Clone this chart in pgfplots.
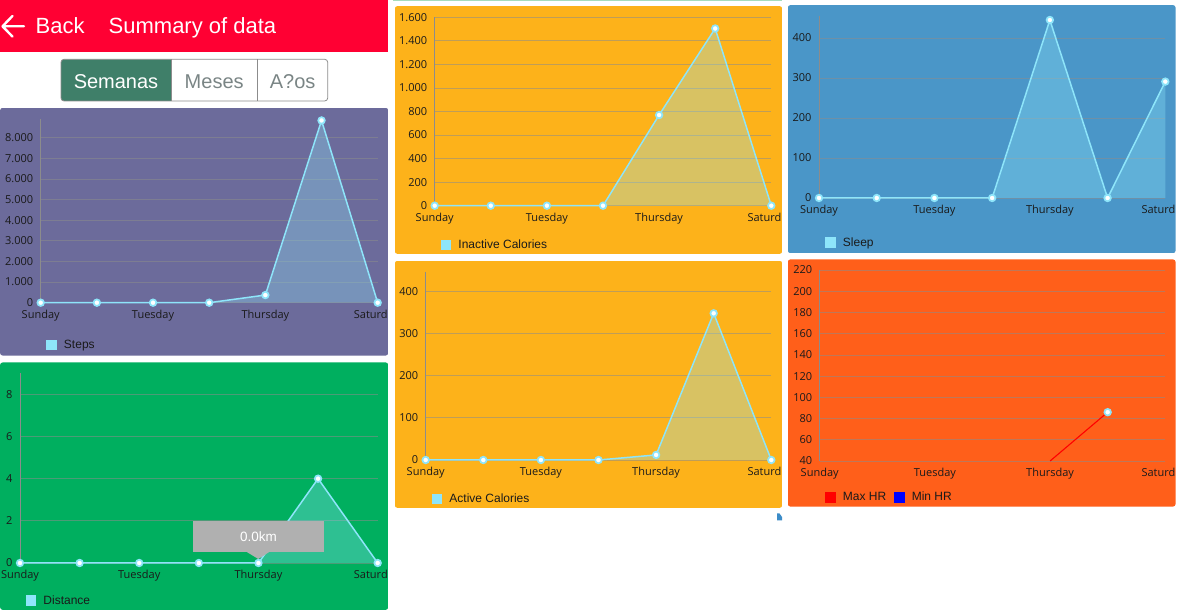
\documentclass[border=0pt]{standalone}
\usepackage{fontspec}
\usepackage{pgfplots}
\pgfplotsset{compat=1.18}
\setmainfont{Liberation Sans}
\newfontfamily\chartfont{Open Sans}
\definecolor{hdrred}{HTML}{FF0033}
\definecolor{segteal}{HTML}{3F7F69}
\definecolor{seggray}{HTML}{7A8585}
\definecolor{stepsbg}{HTML}{6C6B9B}
\definecolor{distbg}{HTML}{00AF5F}
\definecolor{calbg}{HTML}{FDB21A}
\definecolor{sleepbg}{HTML}{4A96C8}
\definecolor{hrbg}{HTML}{FF5F1A}
\definecolor{lcyan}{HTML}{8EE5FA}
\definecolor{tipgray}{HTML}{B0B0B0}
\definecolor{ticktxt}{HTML}{1A1A1A}
\definecolor{topgreen}{HTML}{A6DCBC}
\definecolor{tinyblue}{HTML}{3C8CC8}

\pgfplotsset{
  panel/.style={
    scale only axis, anchor=south west, clip=false,
    xmin=0, xmax=6, ymin=0,
    axis lines*=left,
    x axis line style={draw=none},
    y axis line style={draw=black!45, line width=0.7pt},
    xtick={0,2,4}, xticklabels={Sunday,Tuesday,Thursday},
    extra x ticks={6}, extra x tick labels={Saturd},
    extra x tick style={xticklabel style={anchor=north west, xshift=-27.3pt}},
    ymajorgrids, grid style={draw=black!45, line width=0.7pt, opacity=0.55},
    major tick length=0pt,
    tick label style={font=\chartfont\fontsize{11}{12}\selectfont, text=ticktxt},
    xticklabel style={yshift=-4pt},
    yticklabel style={xshift=-4pt},
    scaled y ticks=false,
    /pgf/number format/1000 sep={.},
    /pgf/number format/assume math mode=true,
    legend style={draw=none, fill=none, inner sep=0pt, anchor=west,
      font=\fontsize{12}{13}\selectfont, text=ticktxt,
      /tikz/every odd column/.style={column sep=5pt},
      /tikz/every even column/.style={column sep=6pt}},
    legend cell align=left,
  },
  legsq/.style={legend image code/.code={\fill[##1, draw=none] (0pt,-5.3pt) rectangle (10.5pt,5.3pt);}},
  dline/.style={lcyan, line width=1.5pt, mark=*, mark size=3.3pt,
    mark options={fill=white, draw=lcyan, line width=1.7pt}, forget plot},
  darea/.style={fill=lcyan, fill opacity=0.33, draw=none, forget plot},
}

\begin{document}
\begin{tikzpicture}[x=1pt, y=1pt]
\useasboundingbox (0,0) rectangle (1178,613);
\fill[white] (0,0) rectangle (1178,613);

% ---------- header ----------
\fill[hdrred] (0,561) rectangle (388,613);
\draw[white, line width=2.4pt, line cap=round, line join=round]
  (24,586.7) -- (2.5,586.7) (12.5,597) -- (2.5,586.7) -- (12.5,576.4);
\node[anchor=base west, text=white, inner sep=0pt, font=\fontsize{22}{24}\selectfont] at (35.5,579.3) {Back};
\node[anchor=base west, text=white, inner sep=0pt, font=\fontsize{22}{24}\selectfont] at (108.5,579.3) {Summary of data};

% ---------- segmented control ----------
\fill[white, rounded corners=3pt] (61,512) rectangle (327.7,553.7);
\fill[segteal, rounded corners=3pt] (61,512) rectangle (175,553.7);
\fill[white] (171,511) rectangle (176,554.5);
\draw[black!45, line width=0.8pt, rounded corners=3pt] (61,512) rectangle (327.7,553.7);
\draw[black!45, line width=0.8pt] (171,512) -- (171,553.7) (257.5,512) -- (257.5,553.7);
\node[anchor=base, text=white, inner sep=0pt, font=\fontsize{20}{22}\selectfont] at (116,524.8) {Semanas};
\node[anchor=base, text=seggray, inner sep=0pt, font=\fontsize{20}{22}\selectfont] at (214.2,524.8) {Meses};
\node[anchor=base, text=seggray, inner sep=0pt, font=\fontsize{20}{22}\selectfont] at (292.6,524.8) {A?os};

% ---------- Steps ----------
\begin{scope}
\clip[rounded corners=3pt] (0,257.3) rectangle (388.3,505.3);
\fill[stepsbg] (0,257.3) rectangle (388.3,505.3);
\begin{axis}[panel, at={(40.7pt,310.3pt)}, width=337pt, height=183.7pt,
  ymax=8900, ytick distance=1000, legend style={at={(0.0166,-0.231)}}]
\addplot[darea] coordinates {(0,0)(1,0)(2,0)(3,0)(4,370)(5,8830)(6,0)} \closedcycle;
\addplot[dline] coordinates {(0,0)(1,0)(2,0)(3,0)(4,370)(5,8830)(6,0)};
\addlegendimage{legsq, fill=lcyan}
\addlegendentry{Steps}
\end{axis}
\end{scope}

% ---------- Distance ----------
\begin{scope}
\clip[rounded corners=3pt] (0,3) rectangle (388.3,250.7);
\fill[distbg] (0,3) rectangle (388.3,250.7);
\begin{axis}[panel, at={(20pt,50pt)}, width=357.7pt, height=189.7pt,
  ymax=9, ytick distance=2, legend style={at={(0.016,-0.199)}}]
\addplot[darea] coordinates {(0,0)(1,0)(2,0)(3,0)(4,0)(5,4)(6,0)} \closedcycle;
\addplot[dline] coordinates {(0,0)(1,0)(2,0)(3,0)(4,0)(5,4)(6,0)};
\addlegendimage{legsq, fill=lcyan}
\addlegendentry{Distance}
\end{axis}
\fill[tipgray] (193.3,61.3) rectangle (323.7,92.3);
\fill[tipgray] (246,61.5) -- (270,61.5) -- (258.3,54) -- cycle;
\node[text=white, font=\fontsize{13.5}{15}\selectfont] at (258.5,76.8) {0.0km};
\end{scope}

% ---------- Inactive Calories ----------
\fill[topgreen] (393,611.6) rectangle (782.3,613);
\begin{scope}
\clip[rounded corners=3pt] (394.7,359) rectangle (782.3,607);
\fill[calbg] (394.7,359) rectangle (782.3,607);
\begin{axis}[panel, at={(434.7pt,407.3pt)}, width=336.6pt, height=188.4pt,
  ymax=1600, ytick distance=200, legend style={at={(0.018,-0.208)}}]
\addplot[darea] coordinates {(0,0)(1,0)(2,0)(3,0)(4,770)(5,1505)(6,0)} \closedcycle;
\addplot[dline] coordinates {(0,0)(1,0)(2,0)(3,0)(4,770)(5,1505)(6,0)};
\addlegendimage{legsq, fill=lcyan}
\addlegendentry{Inactive Calories}
\end{axis}
\end{scope}

% ---------- Active Calories ----------
\begin{scope}
\clip[rounded corners=3pt] (394.7,105) rectangle (782.3,352.3);
\fill[calbg] (394.7,105) rectangle (782.3,352.3);
\begin{axis}[panel, at={(425.7pt,153pt)}, width=345.6pt, height=188pt,
  ymax=446, ytick distance=100, legend style={at={(0.0174,-0.208)}}]
\addplot[darea] coordinates {(0,0)(1,0)(2,0)(3,0)(4,12)(5,348)(6,0)} \closedcycle;
\addplot[dline] coordinates {(0,0)(1,0)(2,0)(3,0)(4,12)(5,348)(6,0)};
\addlegendimage{legsq, fill=lcyan}
\addlegendentry{Active Calories}
\end{axis}
\end{scope}
\fill[tinyblue] (777,92.5) -- (777,99.5) -- (779.5,99.5) -- (782,96) -- (782,92.5) -- cycle;

% ---------- Sleep ----------
\begin{scope}
\clip[rounded corners=3pt] (787.7,359.7) rectangle (1175.7,608);
\fill[sleepbg] (787.7,359.7) rectangle (1175.7,608);
\begin{axis}[panel, at={(819pt,415pt)}, width=346.3pt, height=182pt,
  ymax=455, ytick distance=100, legend style={at={(0.018,-0.246)}}]
\addplot[darea] coordinates {(0,0)(1,0)(2,0)(3,0)(4,445)(5,0)(6,291)} \closedcycle;
\addplot[dline] coordinates {(0,0)(1,0)(2,0)(3,0)(4,445)(5,0)(6,291)};
\addlegendimage{legsq, fill=lcyan}
\addlegendentry{Sleep}
\end{axis}
\end{scope}

% ---------- Heart rate ----------
\begin{scope}
\clip[rounded corners=3pt] (787.7,106.3) rectangle (1175.7,353.7);
\fill[hrbg] (787.7,106.3) rectangle (1175.7,353.7);
\begin{axis}[panel, at={(819.7pt,152pt)}, width=345.6pt, height=191pt,
  ymin=40, ymax=220, ytick distance=20, legend columns=2,
  legend style={at={(0.016,-0.19)}}]
\addplot[red, line width=1.1pt, forget plot] coordinates {(4,40)(5,86)};
\addplot[only marks, mark=*, mark size=3.3pt,
  mark options={fill=white, draw=lcyan, line width=1.7pt}, forget plot] coordinates {(5,86)};
\addlegendimage{legsq, fill=red}
\addlegendentry{Max HR}
\addlegendimage{legsq, fill=blue}
\addlegendentry{Min HR}
\end{axis}
\end{scope}
\end{tikzpicture}
\end{document}
